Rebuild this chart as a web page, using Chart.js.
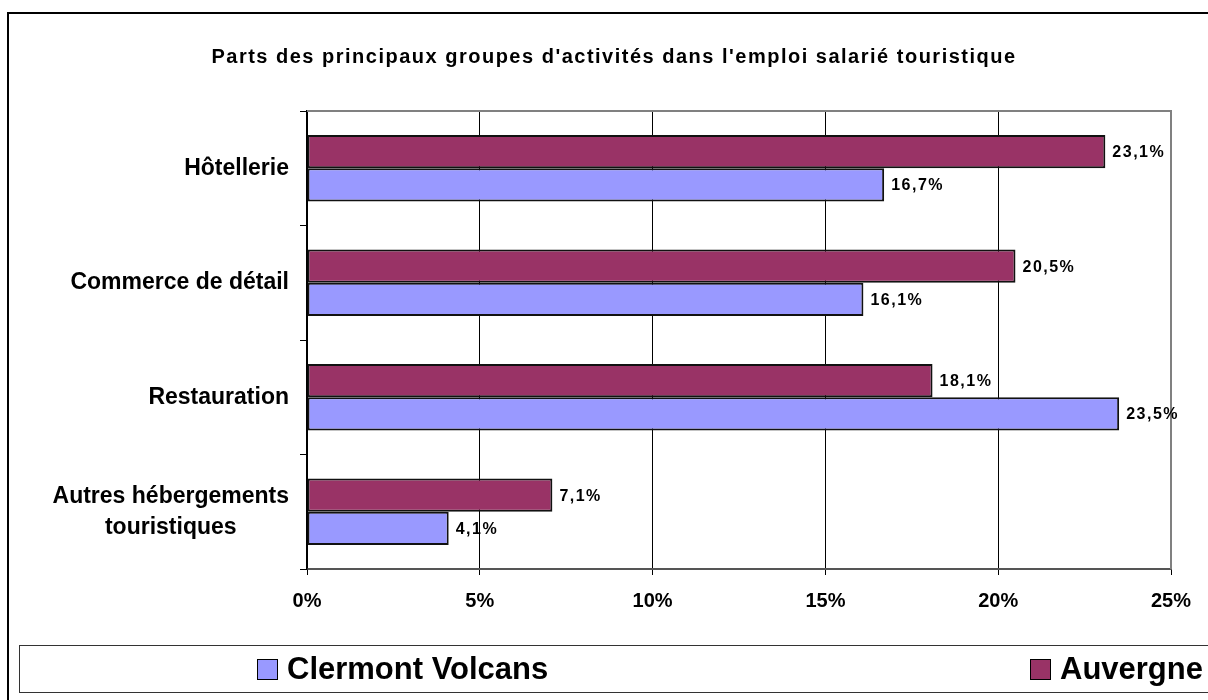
<!DOCTYPE html>
<html>
<head>
<meta charset="utf-8">
<script src="https://cdn.jsdelivr.net/npm/chart.js@4.4.0/dist/chart.umd.min.js"></script>
<style>
  body { margin: 0; width: 1208px; height: 700px; overflow: hidden; position: relative; background: #fff;
         font-family: "Liberation Sans", Arial, sans-serif; }
  #frame { position: absolute; left: 7px; top: 12px; width: 1300px; height: 800px; border: 2px solid #000; }
  #c { position: absolute; left: 0; top: 0; }
  #legend { position: absolute; left: 19px; top: 645px; width: 1300px; height: 46px; border: 1.5px solid #333; }
  .item { position: absolute; top: 0; height: 46px; display: flex; align-items: center; font-weight: bold; font-size: 31px; color: #000; }
  .sw { width: 19px; height: 19px; border: 1px solid #000; margin-right: 9px; }
</style>
</head>
<body>
<div id="frame"></div>
<canvas id="c" width="1208" height="700"></canvas>
<div id="legend">
  <div class="item" style="left:237px"><div class="sw" style="background:#9999FF"></div>Clermont Volcans</div>
  <div class="item" style="left:1010px"><div class="sw" style="background:#993366"></div>Auvergne</div>
</div>
<script>
const chartTitle = "Parts des principaux groupes d'activités dans l'emploi salarié touristique";
const categories = [['Hôtellerie'], ['Commerce de détail'], ['Restauration'], ['Autres hébergements', 'touristiques']];
const auvergne = [23.1, 20.5, 18.1, 7.1];
const clermontVolcans = [16.7, 16.1, 23.5, 4.1];
const xTicks = [0, 5, 10, 15, 20, 25];

const FONT = '"Liberation Sans", Arial, sans-serif';

const fmt = v => v.toFixed(1).replace('.', ',') + '%';

// titre, libellés des catégories, étiquettes de valeurs et cadre gris
const decor = {
    id: 'decor',
    beforeDatasetsDraw(chart) {
        const { ctx, chartArea: a } = chart;
        ctx.save();
        ctx.strokeStyle = '#808080';
        ctx.lineWidth = 2;
        ctx.beginPath();
        ctx.moveTo(a.left, a.top);
        ctx.lineTo(a.right, a.top);
        ctx.lineTo(a.right, a.bottom);
        ctx.stroke();
        ctx.restore();
    },
    afterDraw(chart) {
        const { ctx } = chart;
        const y = chart.scales.y;
        ctx.save();
        ctx.fillStyle = '#000';

        ctx.font = 'bold 20px ' + FONT;
        ctx.letterSpacing = '1.5px';
        ctx.textAlign = 'center';
        ctx.textBaseline = 'middle';
        ctx.fillText(chartTitle, 614, 57);

        ctx.letterSpacing = '0px';
        ctx.font = 'bold 23px ' + FONT;
        categories.forEach((lines, i) => {
            const cy = y.getPixelForValue(i);
            const w = Math.max(...lines.map(l => ctx.measureText(l).width));
            const cx = 289 - w / 2;
            const lh = 31;
            lines.forEach((l, k) => {
                ctx.fillText(l, cx, cy + (k - (lines.length - 1) / 2) * lh);
            });
        });

        ctx.font = 'bold 16px ' + FONT;
        ctx.letterSpacing = '1.5px';
        ctx.textAlign = 'left';
        chart.data.datasets.forEach((ds, di) => {
            chart.getDatasetMeta(di).data.forEach((bar, i) => {
                ctx.fillText(fmt(ds.data[i]), bar.x + 7, bar.y + 1);
            });
        });
        ctx.restore();
    }
};

new Chart(document.getElementById('c'), {
    type: 'bar',
    data: {
        labels: categories.map(c => c.join(' ')),
        datasets: [
            { label: 'Auvergne', data: auvergne, backgroundColor: '#993366' },
            { label: 'Clermont Volcans', data: clermontVolcans, backgroundColor: '#9999FF' }
        ]
    },
    options: {
        indexAxis: 'y',
        responsive: false,
        animation: false,
        layout: { padding: { top: 111, right: 37, left: 0, bottom: 0 } },
        datasets: {
            bar: {
                categoryPercentage: 0.58,
                barPercentage: 1.0,
                borderColor: '#111',
                borderWidth: 2,
                borderSkipped: false
            }
        },
        scales: {
            x: {
                min: 0,
                max: 25,
                afterBuildTicks: s => { s.ticks = xTicks.map(v => ({ value: v })); },
                afterFit: s => { s.height = 131; },
                grid: { color: '#000', lineWidth: 1, tickLength: 6 },
                border: { color: '#555', width: 2 },
                ticks: {
                    padding: 14,
                    color: '#000',
                    font: { family: FONT, size: 20, weight: 'bold' },
                    callback: v => v + '%'
                }
            },
            y: {
                afterFit: s => { s.width = 307; },
                grid: { drawOnChartArea: false, color: '#000', tickLength: 7 },
                border: { color: '#000', width: 1.5 },
                ticks: { display: false }
            }
        },
        plugins: {
            legend: { display: false },
            tooltip: { enabled: false },
            title: { display: false }
        }
    },
    plugins: [decor]
});
</script>
</body>
</html>
